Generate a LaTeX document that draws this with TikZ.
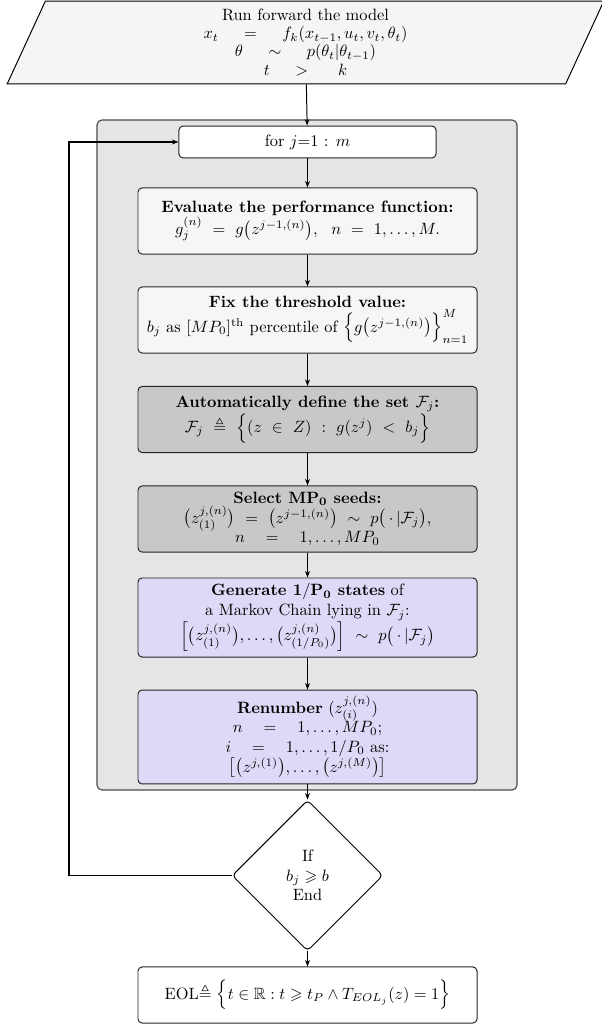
\documentclass[tikz,border=0pt]{standalone}
\usepackage{amsmath}
\usepackage{xcolor}
\usepackage{amssymb}
\usepackage{tikz}
\usetikzlibrary{shapes.geometric,arrows.meta}

\definecolor{runface}{RGB}{245,245,245}
\definecolor{loopface}{RGB}{229,229,229}
\definecolor{paleface}{RGB}{246,246,246}
\definecolor{seedface}{RGB}{200,200,200}
\definecolor{chainface}{RGB}{221,217,246}

\begin{document}
\begin{tikzpicture}[x=0.61pt,y=0.61pt,yscale=-1,xscale=1,
  stepbox/.style={draw=black!85,line width=0.6pt,rounded corners=2.5pt,align=center,inner sep=1pt,minimum width=206.8pt},
  flowarrow/.style={-{Stealth[length=4pt,width=3pt]},line width=0.6pt}]

\useasboundingbox (0,0) rectangle (601,1025);

\node (run) at (305.5,42.5) [draw,line width=0.6pt,fill=runface,trapezium,trapezium left angle=60,trapezium right angle=120,trapezium stretches body=true,minimum width=364pt,minimum height=50.6pt,inner sep=0pt,align=center] {Run forward the model\\[-1pt]
$x_t \;\quad = \;\quad f_k(x_{t-1},u_t,v_t,\theta_t)$\\[-1pt]
$\theta \;\quad \sim \;\quad p(\theta_t|\theta_{t-1})$\\[-1pt]
$t \;\quad > \;\quad\; k$};

\node (loopbg) at (307,455) [draw=black!70,line width=0.7pt,fill=loopface,rounded corners=3pt,minimum width=256.2pt,minimum height=408.7pt] {};

\node (for) at (307.5,142) [stepbox,fill=white,minimum width=156.8pt,minimum height=19.5pt] {for $j$=1 : $m$};

\node (eval) at (307.5,221) [stepbox,fill=paleface,minimum height=40.3pt] {\textbf{Evaluate the performance function:}\\
$g_j^{(n)} \ = \ g\bigl(z^{j-1,(n)}\bigr), \ \ n \ = \ 1,\ldots,M.$};

\node (fix) at (307.5,320) [stepbox,fill=paleface,minimum height=40.3pt] {\textbf{Fix the threshold value:}\\
$b_j$ as $[MP_0]^{\mathrm{th}}$ percentile of $\Bigl\{g\bigl(z^{j-1,(n)}\bigr)\Bigr\}_{n=1}^{M}$};

\node (auto) at (307.5,419.5) [stepbox,fill=seedface,minimum height=40.3pt] {\textbf{Automatically define the set $\mathcal{F}_j$:}\\
$\mathcal{F}_j \ \triangleq \ \Bigl\{(z \ \in \ Z) \ : \ g(z^j) \ < \ b_j\Bigr\}$};

\node (select) at (307.5,519) [stepbox,fill=seedface,minimum height=40.3pt] {\textbf{Select MP$_{\mathbf{0}}$ seeds:}\\
$\bigl(z^{j,(n)}_{(1)}\bigr) \ = \ \bigl(z^{j-1,(n)}\bigr) \ \sim \ p\bigl(\,\cdot\,|\mathcal{F}_j\bigr),$\\
$n \quad = \quad 1,\ldots,MP_0$};

\node (gen) at (307.5,617.5) [stepbox,fill=chainface,minimum height=48.2pt] {\textbf{Generate $\mathbf{1/P_0}$ states} of\\
a Markov Chain lying in $\mathcal{F}_j$:\\
$\Bigl[\bigl(z^{j,(n)}_{(1)}\bigr),\ldots,\bigl(z^{j,(n)}_{(1/P_0)}\bigr)\Bigr] \ \sim \ p\bigl(\,\cdot\,|\mathcal{F}_j\bigr)$};

\node (renum) at (307.5,737) [stepbox,fill=chainface,minimum height=57.3pt] {\textbf{Renumber} $(z^{j,(n)}_{(i)})$\\
$n \quad = \quad 1,\ldots,MP_0;$\\
$i \quad = \quad 1,\ldots,1/P_0$ as:\\
$\bigl[\bigl(z^{j,(1)}\bigr),\ldots,\bigl(z^{j,(M)}\bigr)\bigr]$};

\node (test) at (307.5,875.5) [draw,line width=0.6pt,fill=white,diamond,aspect=1,rounded corners=2.5pt,minimum width=92pt,minimum height=92pt,inner sep=0pt,align=center] {If\\ $b_j \geqslant b$\\ End};

\node (eol) at (307.5,995) [stepbox,fill=white,minimum height=34.2pt] {EOL$\triangleq$ $\Bigl\{t \in \mathbb{R} : t \geqslant t_P \wedge T_{EOL_j}(z) = 1\Bigr\}$};

\coordinate (back) at (69,875.5);

\draw [flowarrow] (run) -- (for);
\draw [flowarrow] (for) -- (eval);
\draw [flowarrow] (eval) -- (fix);
\draw [flowarrow] (fix) -- (auto);
\draw [flowarrow] (auto) -- (select);
\draw [flowarrow] (select) -- (gen);
\draw [flowarrow] (gen) -- (renum);
\draw [flowarrow] (renum) -- (test);
\draw [flowarrow] (test) -- (eol);
\draw [flowarrow,line width=1pt] (test.west) -- (back) |- (for.west);

\end{tikzpicture}
\end{document}
